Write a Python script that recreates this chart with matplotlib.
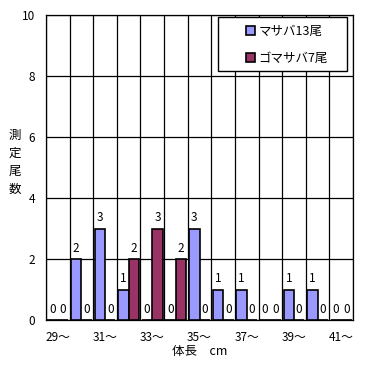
import numpy as np
import matplotlib
matplotlib.use("Agg")
import matplotlib.pyplot as plt
from matplotlib.patches import Rectangle

plt.rcParams['font.family'] = ['Noto Sans CJK JP', 'DejaVu Sans']

# body length classes (cm)
lengths = [29, 30, 31, 32, 33, 34, 35, 36, 37, 38, 39, 40, 41]
masaba = [0, 2, 3, 1, 0, 0, 3, 1, 1, 0, 1, 1, 0]
gomasaba = [0, 0, 0, 2, 3, 2, 0, 0, 0, 0, 0, 0, 0]
labels = ["マサバ13尾", "ゴマサバ7尾"]

x = np.arange(len(lengths))
w = 0.44

fig = plt.figure(figsize=(3.71, 3.65), dpi=100)
ax = fig.add_axes([46/371, 1-320/365, 307/371, 305/365])

b1 = ax.bar(x - w/2, masaba, w, color="#9999FF", edgecolor="black", linewidth=1.2,
            label=labels[0], zorder=3)
b2 = ax.bar(x + w/2, gomasaba, w, color="#993366", edgecolor="black", linewidth=1.2,
            label=labels[1], zorder=3)

for bars, vals in ((b1, masaba), (b2, gomasaba)):
    for r, v in zip(bars, vals):
        ax.annotate(str(v), (r.get_x() + r.get_width()/2, v), xytext=(0, 3),
                    textcoords="offset points", ha="center", va="bottom", fontsize=8.5)

ax.set_xlim(-0.5, len(lengths) - 0.5)
ax.set_ylim(0, 10)
ax.set_yticks([0, 2, 4, 6, 8, 10])
ax.set_xticks(x[::2])
ax.set_xticklabels([f"{v}～" for v in lengths[::2]], fontsize=8.5)
ax.tick_params(axis="y", labelsize=8.5, length=0, pad=8)
ax.tick_params(axis="x", length=0, pad=8)

ax.set_xticks(np.arange(-0.5, len(lengths), 1), minor=True)
ax.tick_params(axis="x", which="minor", length=0)
ax.grid(axis="x", which="minor", color="black", linewidth=0.9, zorder=0)
ax.grid(axis="y", which="major", color="black", linewidth=0.9, zorder=0)
for s in ax.spines.values():
    s.set_linewidth(0.9)

ax.set_xlabel("体長　cm", fontsize=9, labelpad=1)
fig.text(15/371, 1-162/365, "測\n定\n尾\n数", ha="center", va="center",
         fontsize=9, linespacing=1.5)

# legend box
box = Rectangle((218/371, 1-71/365), 129/371, 54/365, transform=fig.transFigure,
                facecolor="white", edgecolor="black", linewidth=1.0, zorder=4)
ax.add_artist(box)
leg = ax.legend(loc="center", bbox_to_anchor=(287/371, 1-45/365),
                bbox_transform=fig.transFigure, fontsize=9, frameon=False,
                handlelength=0.7, handleheight=0.7, handletextpad=0.3,
                borderpad=0, labelspacing=1.15)
leg.set_zorder(5)

fig.savefig("out.png", dpi=100)
